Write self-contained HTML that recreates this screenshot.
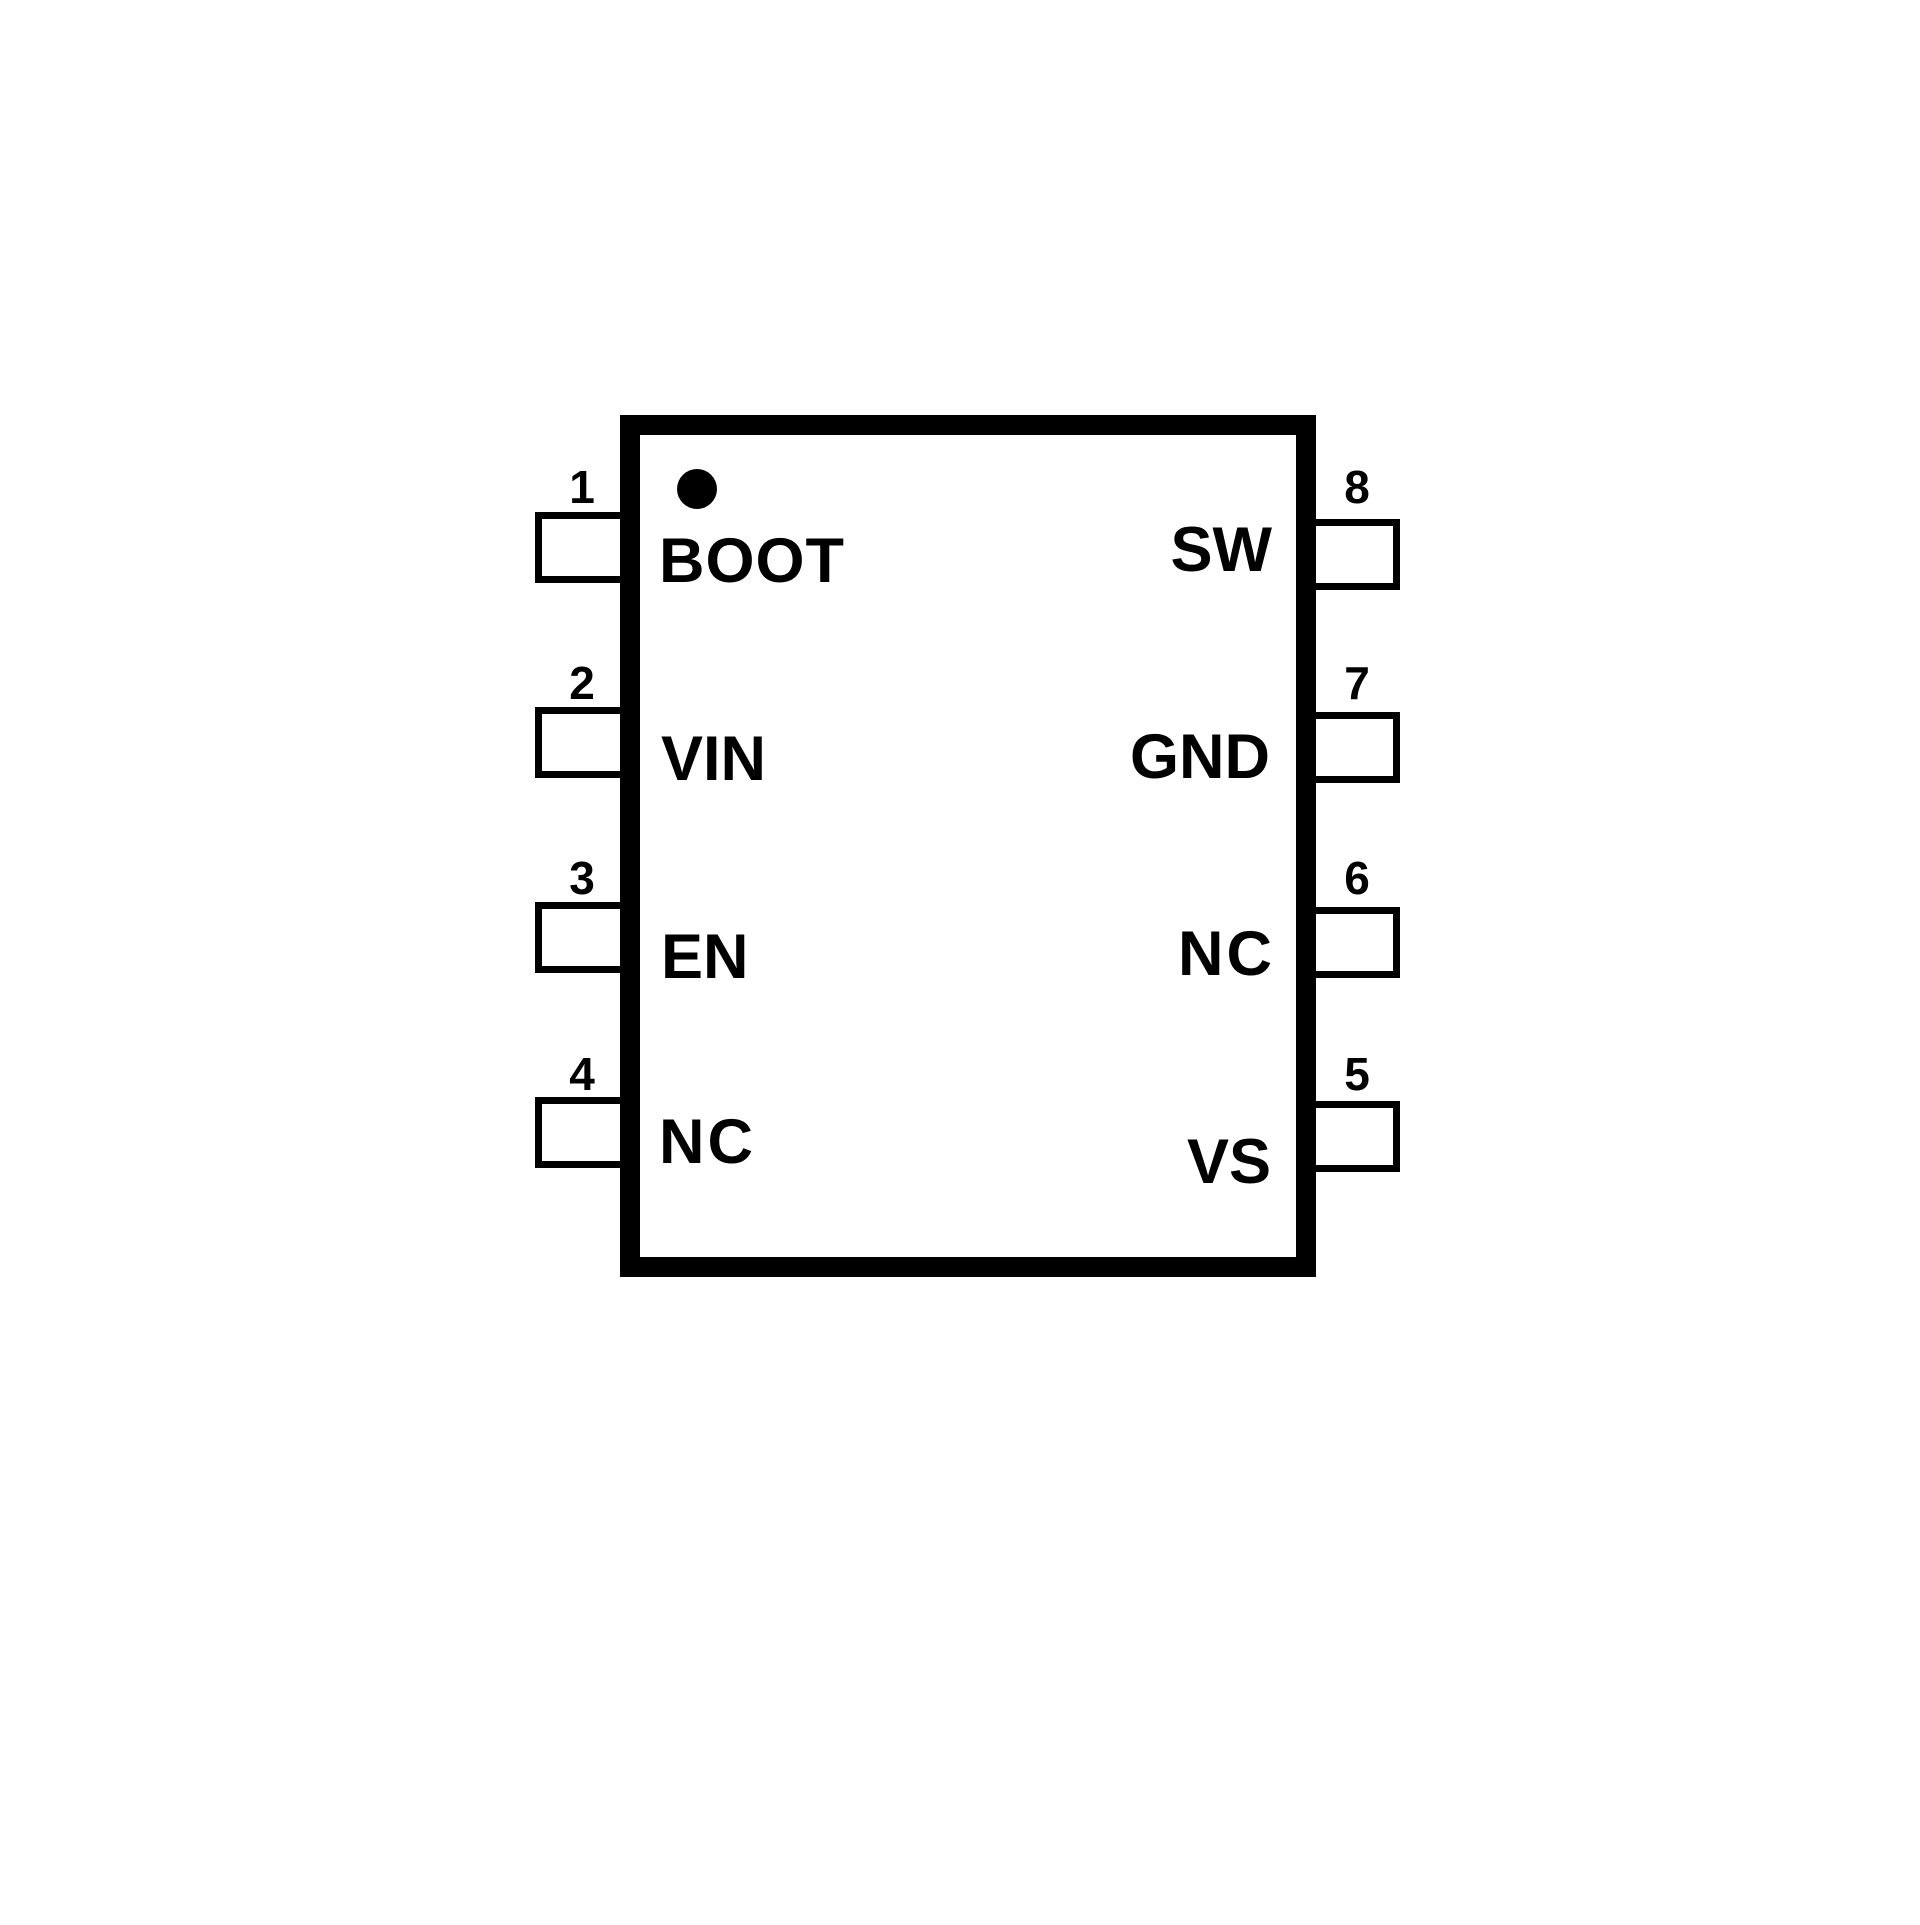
<!DOCTYPE html>
<html><head><style>html,body{margin:0;padding:0;background:#fff}</style></head>
<body>
<svg width="1920" height="1920" viewBox="0 0 1920 1920" xmlns="http://www.w3.org/2000/svg">
<rect width="1920" height="1920" fill="#fff"/>
<g fill="none" stroke="#000" stroke-width="7">
<rect x="538.5" y="515.5" width="90" height="64"/>
<rect x="538.5" y="710.5" width="90" height="64"/>
<rect x="538.5" y="905.5" width="90" height="64"/>
<rect x="538.5" y="1100.5" width="90" height="64"/>
<rect x="1303" y="522.5" width="93.5" height="64"/>
<rect x="1303" y="715.5" width="93.5" height="64"/>
<rect x="1303" y="910.5" width="93.5" height="64"/>
<rect x="1303" y="1104.5" width="93.5" height="64"/>
</g>
<rect x="630" y="425" width="676" height="842" fill="#fff" stroke="#000" stroke-width="20"/>
<circle cx="697" cy="489" r="20" fill="#000"/>
<g font-family="Liberation Sans, sans-serif" font-weight="bold" fill="#000">
<g font-size="46" text-anchor="middle">
<text x="582" y="503">1</text>
<text x="582" y="699">2</text>
<text x="582" y="894">3</text>
<text x="582" y="1090">4</text>
<text x="1357" y="503">8</text>
<text x="1357" y="699">7</text>
<text x="1357" y="894">6</text>
<text x="1357" y="1090">5</text>
</g>
<g font-size="63">
<text x="659" y="582" letter-spacing="1">BOOT</text>
<text x="661" y="780">VIN</text>
<text x="661" y="978">EN</text>
<text x="659" y="1163" letter-spacing="3">NC</text>
</g>
<g font-size="63" text-anchor="end">
<text x="1272" y="571">SW</text>
<text x="1270" y="778">GND</text>
<text x="1275" y="975" letter-spacing="3">NC</text>
<text x="1271" y="1183">VS</text>
</g>
</g>
</svg>
</body></html>
